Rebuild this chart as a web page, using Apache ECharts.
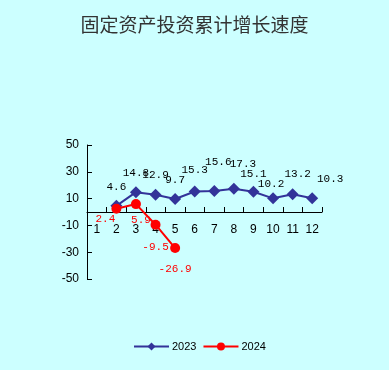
<!DOCTYPE html>
<html>
<head>
<meta charset="utf-8">
<script src="https://cdn.jsdelivr.net/npm/echarts@6/dist/echarts.min.js"></script>
<style>
html,body{margin:0;padding:0;background:#CCFFFF;}
#c{width:389px;height:370px;}
</style>
</head>
<body>
<div id="c"></div>
<script>
const titleText = '固定资产投资累计增长速度';
const months = ['1','2','3','4','5','6','7','8','9','10','11','12'];
const seriesNames = ['2023', '2024'];
const values2023 = [null, 4.6, 14.8, 12.9, 9.7, 15.3, 15.6, 17.3, 15.1, 10.2, 13.2, 10.3];
const values2024 = [null, 2.4, 5.9, -9.5, -26.9, null, null, null, null, null, null, null];
const yTicks = { min: -50, max: 50, interval: 20 };

// label placement (offsets from each point), kept apart from the data
const shift2023 = [[0,0],[0,-19],[0,-19],[0,-20],[0,-19],[0,-21],[4,-29],[9,-25],[0,-18],[-2,-14],[5,-20],[18,-19]];
const shift2024 = [[0,0],[-11,10],[5,16],[0,22],[0,21],[0,0],[0,0],[0,0],[0,0],[0,0],[0,0],[0,0]];

function build(vals, shifts) {
  return vals.map((v, i) => ({
    value: v,
    label: { offset: shifts[i] }
  }));
}

const labelFont = { fontFamily: 'Liberation Mono', fontSize: 11 };

const chart = echarts.init(document.getElementById('c'), null, { renderer: 'canvas' });
chart.setOption({
  backgroundColor: '#CCFFFF',
  animation: false,
  title: {
    text: titleText,
    left: 'center',
    top: 10,
    textStyle: { fontFamily: 'Noto Sans CJK SC', fontSize: 19, fontWeight: 'normal', color: '#333' }
  },
  legend: {
    bottom: 13,
    left: 128,
    itemWidth: 35,
    itemHeight: 10,
    itemGap: 6,
    textStyle: { fontFamily: 'Liberation Sans', fontSize: 11, color: '#000', padding: [0, 0, 0, -2] },
    data: seriesNames
  },
  grid: { left: 87, right: 67, top: 145, bottom: 91 },
  xAxis: {
    type: 'category',
    data: months,
    offset: -67,
    axisLine: { onZero: false, lineStyle: { color: '#000', width: 1 } },
    axisTick: { show: true, inside: true, length: 5, lineStyle: { color: '#000' } },
    axisLabel: { color: '#000', fontFamily: 'Liberation Sans', fontSize: 12, margin: 12, hideOverlap: false }
  },
  yAxis: {
    type: 'value',
    min: yTicks.min,
    max: yTicks.max,
    interval: yTicks.interval,
    splitLine: { show: false },
    axisLine: { show: true, lineStyle: { color: '#000', width: 1 } },
    axisTick: { show: true, inside: true, length: 5, lineStyle: { color: '#000' } },
    axisLabel: { color: '#000', fontFamily: 'Liberation Sans', fontSize: 12, margin: 8, hideOverlap: false }
  },
  series: [
    {
      name: seriesNames[0],
      type: 'line',
      data: build(values2023, shift2023),
      color: '#333399',
      symbol: 'diamond',
      symbolSize: 12,
      lineStyle: { width: 2, color: '#333399' },
      itemStyle: { color: '#333399' },
      label: { show: true, position: 'inside', color: '#000', ...labelFont },
      z: 3
    },
    {
      name: seriesNames[1],
      type: 'line',
      data: build(values2024, shift2024),
      color: '#FF0000',
      symbol: 'circle',
      symbolSize: 10,
      lineStyle: { width: 2, color: '#FF0000' },
      itemStyle: { color: '#FF0000' },
      label: { show: true, position: 'inside', color: '#FF0000', ...labelFont },
      z: 4
    }
  ]
});
</script>
</body>
</html>
